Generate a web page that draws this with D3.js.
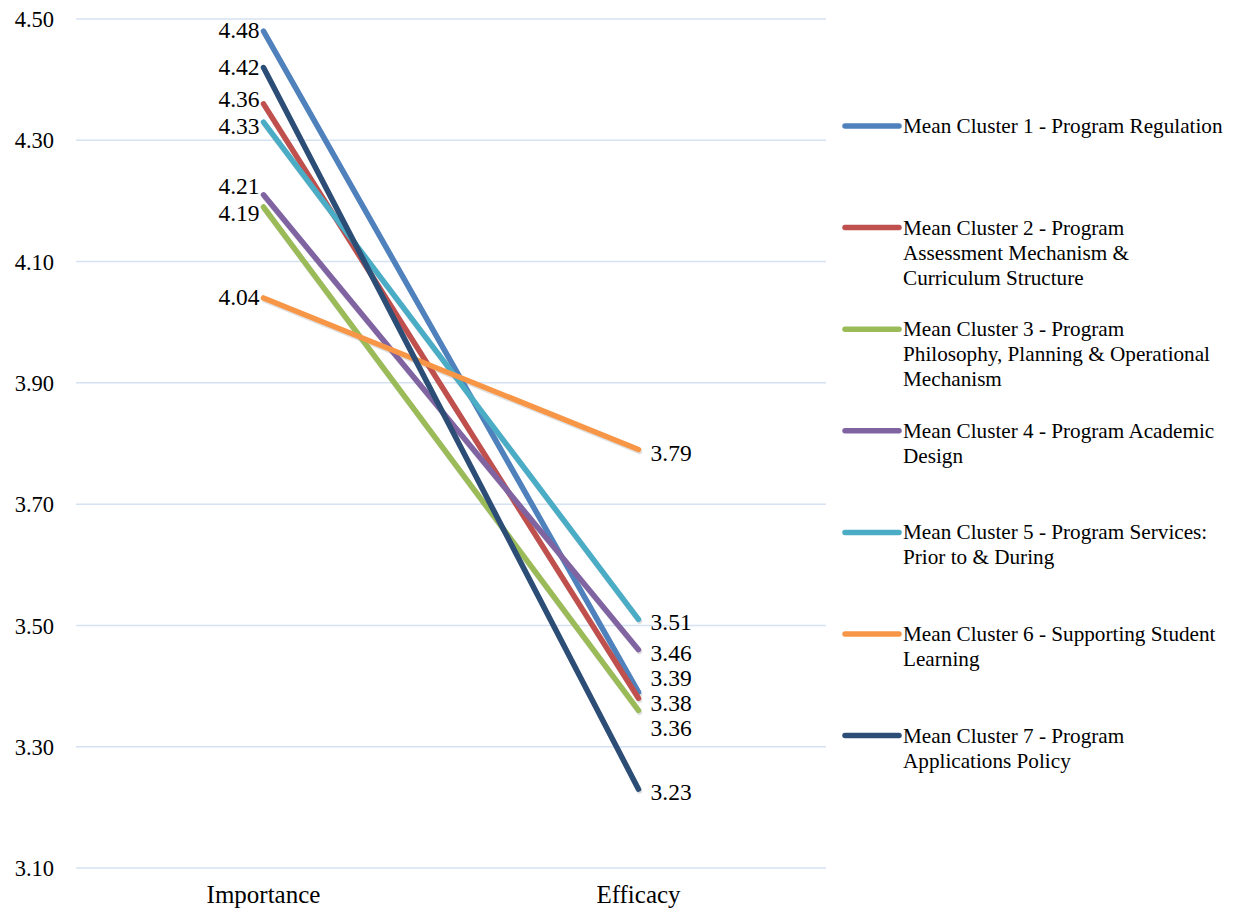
<!DOCTYPE html>
<html><head><meta charset="utf-8">
<script src="https://cdn.jsdelivr.net/npm/d3@7"></script>
<style>body{margin:0;background:#fff}svg{display:block}text{font-family:"Liberation Serif","Times New Roman",serif;fill:#000}</style>
</head><body><svg id="c" width="1236" height="913"></svg>
<script>
const categories = ["Importance", "Efficacy"];
const seriesNames = [
  ["Mean Cluster 1 - Program Regulation"],
  ["Mean Cluster 2 - Program", "Assessment Mechanism &", "Curriculum Structure"],
  ["Mean Cluster 3 - Program", "Philosophy, Planning & Operational", "Mechanism"],
  ["Mean Cluster 4 - Program Academic", "Design"],
  ["Mean Cluster 5 -  Program Services:", "Prior to & During"],
  ["Mean Cluster 6 - Supporting Student", "Learning"],
  ["Mean Cluster 7 - Program", "Applications Policy"]
];
const importance = [4.48, 4.36, 4.19, 4.21, 4.33, 4.04, 4.42];
const efficacy   = [3.39, 3.38, 3.36, 3.46, 3.51, 3.79, 3.23];
const yTicks = [3.10, 3.30, 3.50, 3.70, 3.90, 4.10, 4.30, 4.50];
const colors = ["#4F81BD", "#C0504D", "#9BBB59", "#8064A2", "#4BACC6", "#F79646", "#2C4D75"];

const svg = d3.select("#c");
const x = d3.scaleBand().domain(categories).range([76, 826]);
const y = d3.scaleLinear().domain([3.10, 4.50]).range([868, 19]);
const cx = c => x(c) + x.bandwidth() / 2;

// gridlines
svg.append("g").selectAll("line").data(yTicks).join("line")
  .attr("x1", 76).attr("x2", 826)
  .attr("y1", d => y(d)).attr("y2", d => y(d))
  .attr("stroke", "#d6e2f2").attr("stroke-width", 1.5);

// y axis
const yAxis = d3.axisLeft(y).tickValues(yTicks).tickFormat(d3.format(".2f")).tickSize(0).tickPadding(0);
const gy = svg.append("g").attr("transform", "translate(54,0)").call(yAxis);
gy.select(".domain").remove();
gy.selectAll("text").attr("font-size", 22.5).attr("font-family", "Liberation Serif").attr("fill", "#000").attr("dy", "0.34em");

// x axis
const xAxis = d3.axisBottom(x).tickSize(0).tickPadding(0);
const gx = svg.append("g").attr("transform", "translate(0,887)").call(xAxis);
gx.select(".domain").remove();
gx.selectAll("text").attr("font-size", 25).attr("font-family", "Liberation Serif").attr("fill", "#000").attr("dy", "0.62em");

const series = importance.map((v, i) => ({i, vals: [{c: categories[0], v}, {c: categories[1], v: efficacy[i]}]}));
const line = d3.line().x(d => cx(d.c)).y(d => y(d.v));

// shadows
svg.append("g").selectAll("path").data(series).join("path")
  .attr("d", d => line(d.vals)).attr("transform", "translate(1,2)")
  .attr("fill", "none").attr("stroke", "rgba(0,0,0,0.12)").attr("stroke-width", 5.5).attr("stroke-linecap", "round");
svg.append("g").selectAll("path").data(series).join("path")
  .attr("d", d => line(d.vals))
  .attr("fill", "none").attr("stroke", d => colors[d.i]).attr("stroke-width", 5.5).attr("stroke-linecap", "round");

// label de-overlap
function spread(vals, gap) {
  let items = vals.map((v, i) => ({i, y: y(v)})).sort((a, b) => a.y - b.y);
  let groups = items.map(it => ({members: [it], top: it.y}));
  let changed = true;
  const center = g => g.members.reduce((s, m) => s + m.y, 0) / g.members.length;
  for (const g of groups) g.top = center(g) - (g.members.length - 1) * gap / 2;
  while (changed) {
    changed = false;
    for (let k = 0; k < groups.length - 1; k++) {
      const a = groups[k], b = groups[k + 1];
      if (a.top + a.members.length * gap > b.top + 0.001) {
        const m = {members: a.members.concat(b.members)};
        m.top = center(m) - (m.members.length - 1) * gap / 2;
        groups.splice(k, 2, m); changed = true; break;
      }
    }
  }
  const out = [];
  for (const g of groups) g.members.forEach((m, j) => out[m.i] = g.top + j * gap);
  return out;
}
const impY = spread(importance, 27);
const effY = spread(efficacy, 25);

svg.append("g").selectAll("text").data(importance).join("text")
  .attr("x", cx(categories[0]) - 4).attr("y", (d, i) => impY[i])
  .attr("dy", "0.3em").attr("text-anchor", "end").attr("font-size", 23.5)
  .text(d => d3.format(".2f")(d));
svg.append("g").selectAll("text").data(efficacy).join("text")
  .attr("x", cx(categories[1]) + 12).attr("y", (d, i) => effY[i] + 3)
  .attr("dy", "0.34em").attr("text-anchor", "start").attr("font-size", 23.5)
  .text(d => d3.format(".2f")(d));

// legend
const lg = svg.append("g").selectAll("g").data(seriesNames).join("g")
  .attr("transform", (d, i) => `translate(843,${126 + i * 101.6})`);
lg.append("line").attr("x1", 2).attr("x2", 56).attr("y1", 0).attr("y2", 0)
  .attr("stroke", (d, i) => colors[i]).attr("stroke-width", 5.5).attr("stroke-linecap", "round");
lg.append("text").attr("x", 60).attr("y", 7).attr("font-size", 21.2)
  .selectAll("tspan").data(d => d).join("tspan")
  .attr("x", 60).attr("dy", (d, j) => j === 0 ? 0 : 25).text(d => d);
</script></body></html>
